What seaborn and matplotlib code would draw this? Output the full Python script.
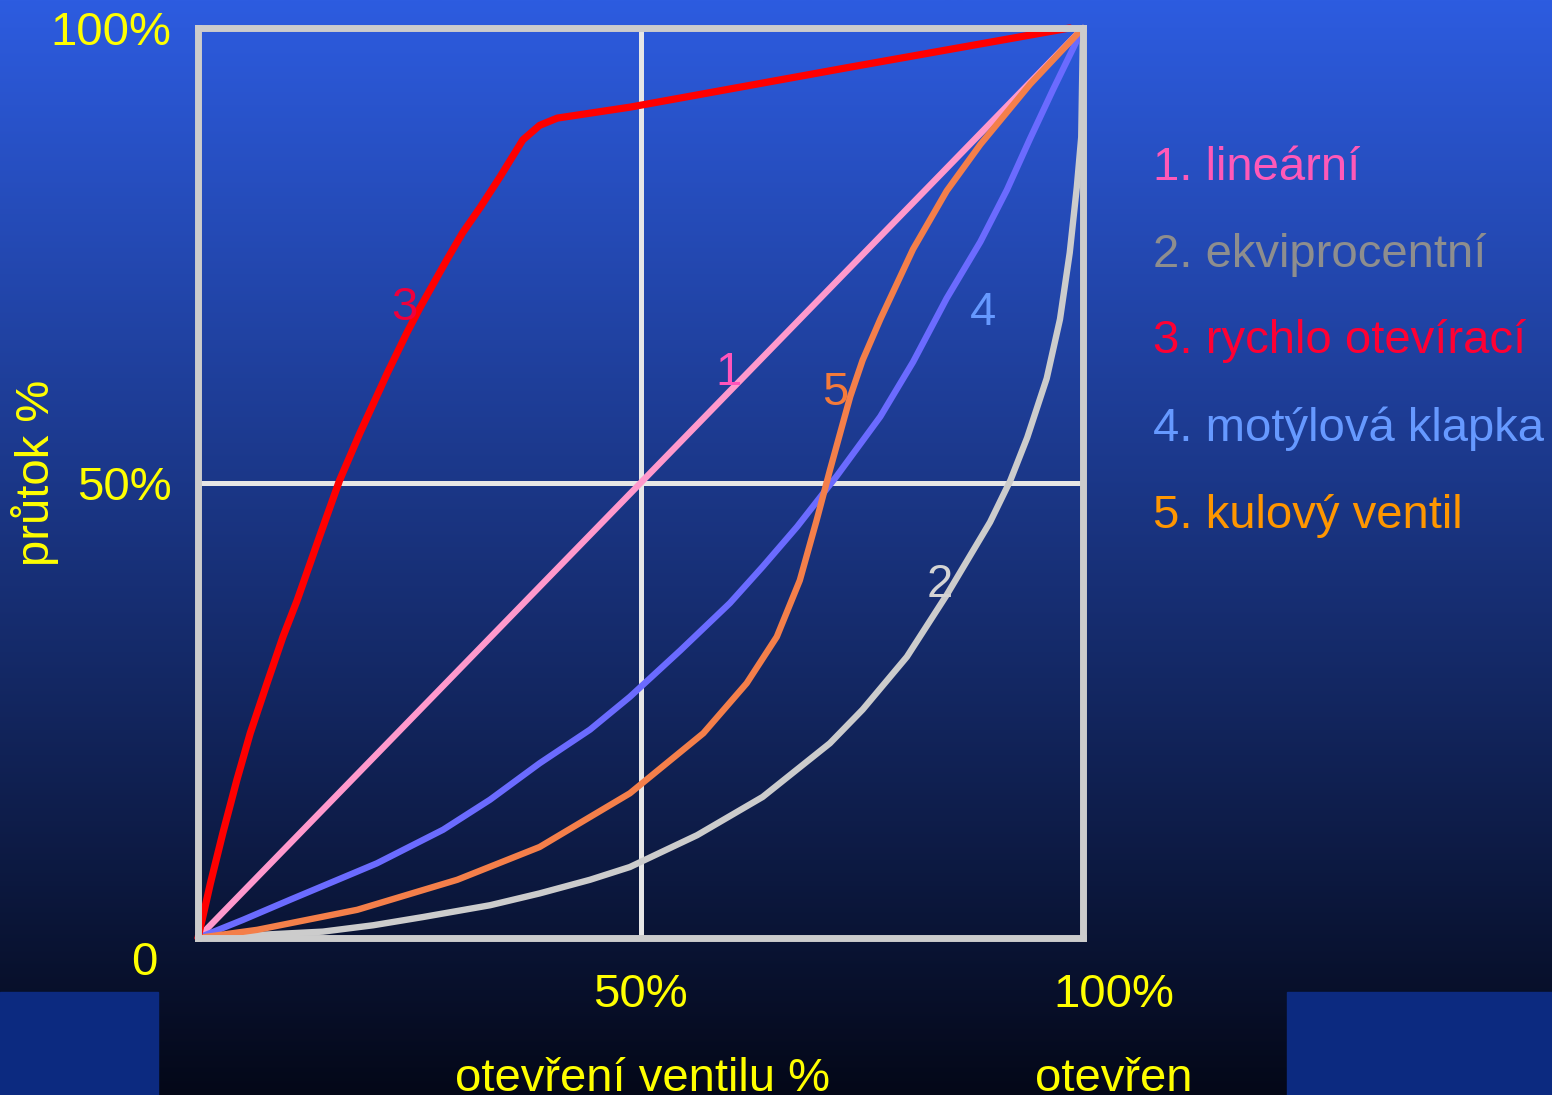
import numpy as np
import pandas as pd
import seaborn as sns
import matplotlib.pyplot as plt
from matplotlib.patches import Rectangle

# valve characteristics (x = opening %, y = flow %)
linear_x = [0, 50, 100]
linear_y = [0, 50, 100]

equal_pct_x = [0, 14.1, 19.8, 25.4, 33.0, 38.6, 44.3, 48.8, 56.4, 63.8, 71.4, 75.1, 80.1,
               84.6, 89.5, 91.8, 93.7, 95.9, 97.4, 98.5, 99.3, 99.8, 100]
equal_pct_y = [0, 0.7, 1.4, 2.3, 3.6, 4.9, 6.4, 7.8, 11.3, 15.5, 21.4, 25.1, 30.9,
               37.7, 45.7, 50.3, 55.0, 61.5, 68.0, 75.3, 82.5, 88.0, 100]

quick_x = [0, 1.4, 2.8, 4.4, 5.9, 7.8, 9.6, 11.2, 13.8, 16.0, 18.3, 21.4, 23.6, 25.1,
           28.1, 29.9, 31.9, 34.1, 36.7, 38.6, 40.6, 48.8, 73.7, 98.5]
quick_y = [0, 6.0, 11.5, 17.4, 22.5, 28.0, 33.1, 37.1, 44.3, 50.3, 55.5, 62.1, 66.5, 69.3,
           74.5, 77.5, 80.3, 83.6, 87.7, 89.3, 90.1, 91.3, 95.7, 100]

butterfly_x = [0, 5.1, 10.4, 20.2, 27.7, 33.0, 38.6, 44.3, 48.8, 54.5, 60.1, 63.8, 67.7,
               72.2, 77.1, 80.8, 84.6, 88.4, 91.4, 94.0, 96.6, 100]
butterfly_y = [0, 2.0, 4.2, 8.2, 11.9, 15.2, 19.2, 22.9, 26.5, 31.6, 36.8, 40.8, 45.2,
               50.8, 57.3, 63.3, 70.3, 76.5, 82.2, 87.8, 93.2, 100]

ball_x = [0, 6.7, 18.0, 29.3, 38.6, 44.3, 48.8, 57.1, 62.0, 65.4, 68.0, 69.9, 71.4, 73.7,
          75.1, 77.1, 80.8, 84.6, 88.4, 94.0, 100]
ball_y = [0, 0.9, 3.1, 6.4, 10.0, 13.3, 15.9, 22.5, 28.0, 33.1, 39.3, 45.9, 51.4, 59.5,
          63.5, 68.0, 75.7, 82.1, 87.2, 93.8, 100]

curve_names = ["1. lineární", "2. ekviprocentní", "3. rychlo otevírací",
               "4. motýlová klapka", "5. kulový ventil"]
curve_tags = ["1", "2", "3", "4", "5"]

line_colors = ["#FF99CC", "#CCCCCC", "#FF0000", "#6B6BFF", "#F47F4A"]
legend_colors = ["#FF59B8", "#8E8E8E", "#FF0033", "#6699FF", "#FF9600"]
tag_colors = ["#FF55BB", "#D4D4D4", "#F0003C", "#6699FF", "#F47A3A"]

series = [(linear_x, linear_y), (equal_pct_x, equal_pct_y), (quick_x, quick_y),
          (butterfly_x, butterfly_y), (ball_x, ball_y)]
df = pd.concat([pd.DataFrame({"x": sx, "y": sy, "curve": name})
                for (sx, sy), name in zip(series, curve_names)], ignore_index=True)

sns.set_theme(style="white")
plt.rcParams["font.family"] = ["Liberation Sans", "DejaVu Sans"]

W, H = 1552, 1095
fig = plt.figure(figsize=(W / 100, H / 100), dpi=100)

# gradient background
bg = fig.add_axes([0, 0, 1, 1], zorder=-5)
top = np.array([45, 92, 224]) / 255
bottom = np.array([4, 8, 24]) / 255
t = np.linspace(0, 1, 512)[:, None]
grad = (top * (1 - t) + bottom * t)[:, None, :]
bg.imshow(grad, aspect="auto", extent=[0, 1, 0, 1])
bg.add_patch(Rectangle((0, 0), 158 / W, 103 / H, color="#0C2A80"))
bg.add_patch(Rectangle((1287 / W, 0), 1 - 1287 / W, 103 / H, color="#0C2A80"))
bg.set_xlim(0, 1)
bg.set_ylim(0, 1)
bg.axis("off")

ax = fig.add_axes([198 / W, 1 - 938 / H, 885 / W, 910 / H])
ax.set_facecolor("none")

draw_order = [curve_names[i] for i in (1, 0, 3, 4, 2)]
palette = dict(zip(curve_names, line_colors))
sns.lineplot(data=df, x="x", y="y", hue="curve", hue_order=draw_order,
             palette=palette, sort=False, estimator=None, legend=False,
             linewidth=4.6, solid_capstyle="round", solid_joinstyle="round",
             clip_on=False, ax=ax)
ax.lines[-1].set_linewidth(5.2)

ax.set_xlim(0, 100)
ax.set_ylim(0, 100)
ax.set_xlabel("")
ax.set_ylabel("")

ax.set_xticks([50], labels=["50%"])
ax.set_yticks([50, 100], labels=["50%", "100%"])
ax.tick_params(axis="both", length=0, colors="#FFFF00", labelsize=34)
ax.tick_params(axis="x", pad=25)
ax.tick_params(axis="y", pad=19)
ax.grid(True, color="#E6E6E6", linewidth=3.6)
ax.set_axisbelow(True)
for s in ax.spines.values():
    s.set_color("#CCCCCC")
    s.set_linewidth(5)
    s.set_visible(True)

yellow = "#FFFF00"
ax.text(-6.1, -4.1, "0", color=yellow, fontsize=34, ha="center", va="baseline", clip_on=False)
ax.text(103.5, -7.6, "100%", color=yellow, fontsize=34, ha="center", va="baseline", clip_on=False)
ax.text(50.2, -16.8, "otevření ventilu %", color=yellow, fontsize=34, ha="center", va="baseline", clip_on=False)
ax.text(103.5, -16.8, "otevřen", color=yellow, fontsize=34, ha="center", va="baseline", clip_on=False)
ax.text(-18.4, 51.1, "průtok %", color=yellow, fontsize=34, rotation=90,
        ha="center", va="center", clip_on=False)

# curve tags inside the plot
tag_pos = [(59.9, 60.8), (83.8, 37.5), (23.3, 67.9), (88.7, 67.4), (72.0, 58.6)]
for tag, (tx, ty), c in zip(curve_tags, tag_pos, tag_colors):
    ax.text(tx, ty, tag, color=c, fontsize=34, ha="center", va="baseline")

# legend list on the right
legend_base = [83.3, 73.7, 64.3, 54.6, 45.05]
for name, ly, c in zip(curve_names, legend_base, legend_colors):
    ax.text(107.9, ly, name, color=c, fontsize=34, ha="left", va="baseline", clip_on=False)

fig.savefig("out.png", dpi=100)
